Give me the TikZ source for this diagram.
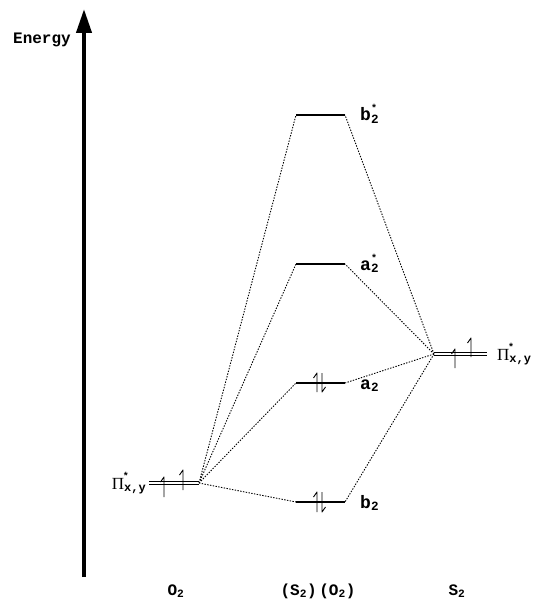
\documentclass[tikz,border=0pt]{standalone}
\usepackage{fontspec}
\usetikzlibrary{arrows.meta}
\newfontfamily\lblfont{Liberation Mono}
\newfontfamily\grkfont{Liberation Serif}
\newcommand{\upspin}[3]{\draw[spin] (#1,#3)--(#1,#2)--++(-3.5,5);}
\newcommand{\downspin}[3]{\draw[spin] (#1,#2)--(#1,#3)--++(3.5,-5);}
\begin{document}
\begin{tikzpicture}[x=1pt, y=-1pt, line join=round, line cap=butt,
  level/.style={line width=2.2pt},
  pair/.style={double, double distance=2pt, line width=1.3pt},
  link/.style={dash pattern=on 1.4pt off 1.4pt, line width=0.9pt},
  spin/.style={line width=0.9pt},
  lbl/.style={font=\lblfont\bfseries\fontsize{16}{16}\selectfont, inner sep=0pt},
  pilbl/.style={font=\fontsize{17}{17}\selectfont, inner sep=0pt}]
	\useasboundingbox (0,0) rectangle (538,601);
	%\draw[gray!20] (0,0) grid[step=50] (538,601);
	
	% energy axis
	\coordinate (E0) at (84,577);
	\coordinate (E1) at (84,9);
	\draw[line width=4pt, -{Triangle[length=24pt, width=15pt]}] (E0)--(E1);
	\node[lbl, font=\lblfont\bfseries\fontsize{16}{16}\selectfont] (energy) at (42,40) {Energy};
	
	% O2 level
	\coordinate (OL) at (149,483);
	\coordinate (OR) at (199,483);
	\draw[pair] (OL)--(OR);
	\upspin{164}{477}{497}
	\upspin{183}{470}{490}
	\node[pilbl, anchor=base east] (pio) at (146,489)
	  {{\grkfont Π}\lblfont\bfseries\raisebox{-2pt}{\fontsize{12}{12}\selectfont x,y}\llap{\raisebox{10pt}{\fontsize{10}{10}\selectfont *}\hspace{17pt}}};
	
	% S2 level
	\coordinate (SL) at (434,354);
	\coordinate (SR) at (487,354);
	\draw[pair] (SL)--(SR);
	\upspin{455}{349}{368}
	\upspin{471}{338}{357}
	\node[pilbl, anchor=base west] (pis) at (497,360)
	  {{\grkfont Π}\lblfont\bfseries\raisebox{-2pt}{\fontsize{12}{12}\selectfont x,y}\llap{\raisebox{10pt}{\fontsize{10}{10}\selectfont *}\hspace{17pt}}};
	
	% (S2)(O2) levels
	\coordinate (bsL) at (296,115); \coordinate (bsR) at (345,115);
	\coordinate (asL) at (296,264); \coordinate (asR) at (345,264);
	\coordinate (aL) at (296,383);  \coordinate (aR) at (345,383);
	\coordinate (bL) at (296,502);  \coordinate (bR) at (345,502);
	\draw[level] (bsL)--(bsR) (asL)--(asR) (aL)--(aR) (bL)--(bR);
	\upspin{317}{373}{392} \downspin{322}{373}{392}
	\upspin{317}{492}{512} \downspin{322}{492}{512}
	
	\node[lbl, font=\lblfont\bfseries\fontsize{18}{18}\selectfont, anchor=base west] (bs) at (360,121) {b\rlap{\raisebox{9pt}{\fontsize{10}{10}\selectfont *}}\textsubscript{2}};
	\node[lbl, font=\lblfont\bfseries\fontsize{18}{18}\selectfont, anchor=base west] (as) at (360,270) {a\rlap{\raisebox{9pt}{\fontsize{10}{10}\selectfont *}}\textsubscript{2}};
	\node[lbl, font=\lblfont\bfseries\fontsize{18}{18}\selectfont, anchor=base west] (a) at (360,389) {a\textsubscript{2}};
	\node[lbl, font=\lblfont\bfseries\fontsize{18}{18}\selectfont, anchor=base west] (b) at (360,508) {b\textsubscript{2}};
	
	% correlation lines
	\draw[link] (OR)--(bsL) (OR)--(asL) (OR)--(aL) (OR)--(bL);
	\draw[link] (SL)--(bsR) (SL)--(asR) (SL)--(aR) (SL)--(bR);
	
	% bottom labels
	\node[lbl, anchor=base] (o2) at (176,595) {O\textsubscript{2}};
	\node[lbl, anchor=base] (so) at (318,595) {(S\textsubscript{2})\,(O\textsubscript{2})};
	\node[lbl, anchor=base] (s2) at (457,595) {S\textsubscript{2}};
\end{tikzpicture}
\end{document}
